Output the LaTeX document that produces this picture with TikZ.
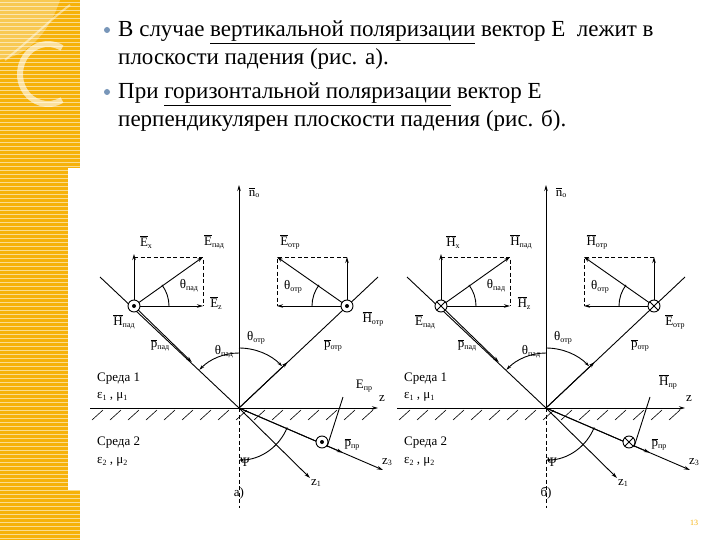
\documentclass[tikz,border=0pt]{standalone}
\usepackage{fontspec}
\setmainfont{Liberation Serif}
\usetikzlibrary{arrows.meta,calc}
\definecolor{org}{RGB}{246,178,10}
\definecolor{bul}{RGB}{120,150,185}
\newcommand{\ov}[1]{\(\overline{\hbox{#1}}\)}
\newcommand{\sbs}[1]{\raisebox{-0.3ex}{\footnotesize #1}}
\begin{document}
\begin{tikzpicture}[x=1pt,y=-1pt,
  ln/.style={line width=0.9pt},
  ar/.style={ln,-{Stealth[length=6pt,width=3.5pt]}},
  dsh/.style={line width=0.8pt,dash pattern=on 4pt off 2.5pt},
  lb/.style={font=\fontsize{13}{14}\selectfont,inner sep=1pt},
  tx/.style={font=\fontsize{23}{26}\selectfont,anchor=base west,inner sep=0pt}]
\useasboundingbox (0,0) rectangle (720,540);
\fill[white] (0,0) rectangle (720,540);
% left bar
\fill[org] (0,0) rectangle (80,168);
\fill[org] (0,168) rectangle (68,490);
\fill[org] (0,490) rectangle (80,540);
\foreach \y in {2,6,...,538} \draw[white,opacity=0.55,line width=0.6pt] (0,\y) -- (80,\y);
\fill[white] (68,168) rectangle (80,490);
\draw[white,opacity=0.6,line width=6pt] (62,100) arc (60:300:28 and 30);
\fill[white,opacity=0.3] (0,0) -- (60,0) .. controls (50,30) and (30,55) .. (0,60) -- cycle;
\draw[white,opacity=0.45,line width=2pt] (5,60) .. controls (30,40) and (50,20) .. (70,5);
% text
\fill[bul] (107,30) circle (3pt); \fill[bul] (107,92) circle (3pt);
\node[tx] (t1) at (118,37) {В случае \underline{вертикальной поляризации} вектор E\ \ лежит в};
\node[tx] (t2) at (118,65) {плоскости падения (рис. а).};
\node[tx] (t3) at (118,99) {При \underline{горизонтальной поляризации} вектор E};
\node[tx] (t4) at (118,127) {перпендикулярен плоскости падения (рис. б).};
\node[font=\fontsize{8}{9}\selectfont,text=org] (pg) at (694,523) {13};
% diagrams
\foreach \dx/\nm in {0/a,307/b}{
\begin{scope}[xshift=\dx]
\coordinate (O\nm) at (239,408);
\coordinate (N\nm) at (239,185);
\coordinate (Z\nm) at (378,408);
\coordinate (I\nm) at (100,277);
\coordinate (R\nm) at (378,277);
\coordinate (H\nm) at (134,306);
\coordinate (K\nm) at (347,306);
\draw[ar] (O\nm) -- (N\nm);
\draw[ar] (90,408) -- (Z\nm);
\foreach \x in {92,110,...,372} \draw[line width=0.6pt] (\x,420) -- (\x+11,410);
\draw[ln] (I\nm) -- (O\nm) -- (R\nm);
\draw[ar] (H\nm) -- ($(H\nm)!0.55!(O\nm)$);
\draw[ar] (O\nm) -- ($(O\nm)!0.45!(K\nm)$);
% left box
\draw[ar] (H\nm) -- (134,254);
\draw[ar] (H\nm) -- (203,306);
\draw[ar] (H\nm) -- (203,257);
\draw[dsh] (134,257) -- (203,257) -- (203,306);
\draw[ln] (169,306) arc (0:-37:35);
% right box
\draw[ar] (K\nm) -- (277,306);
\draw[ar] (K\nm) -- (347,257);
\draw[ar] (K\nm) -- (277,257);
\draw[dsh] (347,257) -- (277,257) -- (277,306);
\draw[ln] (312,306) arc (180:217:35);
% angle arcs
\draw[ln,{Stealth[length=5pt,width=3pt]}-] ($(O\nm)+(-136:55)$) arc (-136:-90:55);
\draw[ln,-{Stealth[length=5pt,width=3pt]}] ($(O\nm)+(-90:60)$) arc (-90:-44:60);
% transmitted
\coordinate (T\nm) at (383,470);
\coordinate (U\nm) at (310,478);
\draw[ar] (O\nm) -- (T\nm);
\draw[ar] (O\nm) -- (U\nm);
\draw[ar] (O\nm) -- ($(O\nm)!0.72!(T\nm)$);
\draw[dsh] (O\nm) -- (239,508);
\draw[ln,{Stealth[length=5pt,width=3pt]}-] (239,460) arc (90:22:52);
\coordinate (C\nm) at (322,442);
\draw[ln] (327,447) -- (343,397);
\draw[ln,fill=white] (H\nm) circle (6);
\draw[ln,fill=white] (K\nm) circle (6);
\draw[ln,fill=white] (C\nm) circle (6);
\node[lb] at (254,193) {\ov{n}\sbs{o}};
\node[lb] at (224,352) {θ\sbs{пад}};
\node[lb] at (256,338) {θ\sbs{отр}};
\node[lb] at (189,286) {θ\sbs{пад}};
\node[lb] at (293,287) {θ\sbs{отр}};
\node[lb] at (160,345) {\ov{p}\sbs{пад}};
\node[lb] at (333,345) {\ov{p}\sbs{отр}};
\node[lb] at (352,444) {\ov{p}\sbs{пр}};
\node[lb] at (382,399) {z};
\node[lb] at (387,462) {z\sbs{3}};
\node[lb] at (316,483) {z\sbs{1}};
\node[lb] at (245,462) {Ψ};
\node[lb,anchor=west] at (96,379) {Среда 1};
\node[lb,anchor=west] at (96,397) {ε\sbs{1} , μ\sbs{1}};
\node[lb,anchor=west] at (96,443) {Среда 2};
\node[lb,anchor=west] at (96,462) {ε\sbs{2} , μ\sbs{2}};
\end{scope}}
\foreach \c in {Ha,Ka,Ca}{\fill (\c) circle (2);}
\foreach \c in {Hb,Kb,Cb}{\draw[ln] ($(\c)+(-4.2,-4.2)$) -- ($(\c)+(4.2,4.2)$) ($(\c)+(-4.2,4.2)$) -- ($(\c)+(4.2,-4.2)$);}
% labels a
\node[lb] at (146,242) {\ov{E}\sbs{x}};
\node[lb] at (214,242) {\ov{E}\sbs{пад}};
\node[lb] at (216,303) {\ov{E}\sbs{z}};
\node[lb] at (124,322) {\ov{H}\sbs{пад}};
\node[lb] at (290,242) {\ov{E}\sbs{отр}};
\node[lb] at (373,319) {\ov{H}\sbs{отр}};
\node[lb] at (364,386) {E\sbs{пр}};
\node[lb] at (239,493) {а)};
% labels b
\node[lb] at (453,242) {\ov{H}\sbs{x}};
\node[lb] at (521,242) {\ov{H}\sbs{пад}};
\node[lb] at (524,303) {\ov{H}\sbs{z}};
\node[lb] at (425,322) {\ov{E}\sbs{пад}};
\node[lb] at (597,242) {\ov{H}\sbs{отр}};
\node[lb] at (675,322) {\ov{E}\sbs{отр}};
\node[lb] at (668,382) {\ov{H}\sbs{пр}};
\node[lb] at (546,493) {б)};
\end{tikzpicture}
\end{document}
